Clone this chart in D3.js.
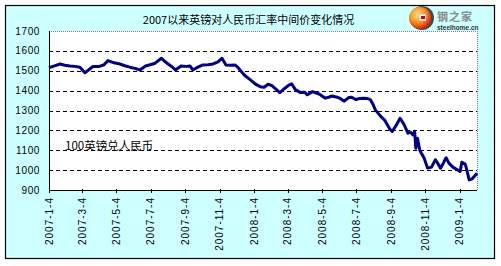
<!DOCTYPE html>
<html>
<head>
<meta charset="utf-8">
<script src="https://cdn.jsdelivr.net/npm/d3@7"></script>
<style>
  body { margin: 0; background: #fff; }
  text { font-family: "Liberation Sans", Arial, sans-serif; }
  .cjk { font-family: "Noto Sans CJK SC", sans-serif; }
</style>
</head>
<body>
<div id="chart"></div>
<script>
// 英镑对人民币中间价 (100 GBP)
var dates = ["2007-1-4","2007-1-11","2007-1-24","2007-2-1","2007-2-10","2007-2-19","2007-2-28","2007-3-9","2007-3-16","2007-3-23",
  "2007-4-4","2007-4-12","2007-4-19","2007-4-30","2007-5-10","2007-5-19","2007-5-28","2007-6-6","2007-6-15","2007-6-25",
  "2007-7-3","2007-7-12","2007-7-23","2007-7-30","2007-8-4","2007-8-11","2007-8-17","2007-8-27","2007-9-5","2007-9-12",
  "2007-9-17","2007-9-26","2007-10-5","2007-10-14","2007-10-23","2007-11-1","2007-11-8","2007-11-15","2007-11-24","2007-12-1",
  "2007-12-6","2007-12-10","2007-12-19","2007-12-28","2008-1-6","2008-1-15","2008-1-22","2008-1-29","2008-2-5","2008-2-10",
  "2008-2-19","2008-2-28","2008-3-6","2008-3-11","2008-3-18","2008-3-27","2008-4-3","2008-4-8","2008-4-17","2008-4-24",
  "2008-4-29","2008-5-10","2008-5-17","2008-5-22","2008-5-31","2008-6-7","2008-6-12","2008-6-21","2008-6-26","2008-7-3",
  "2008-7-10","2008-7-17","2008-7-24","2008-7-29","2008-8-3","2008-8-7","2008-8-17","2008-8-24","2008-9-2","2008-9-6",
  "2008-9-13","2008-9-20","2008-9-27","2008-10-4","2008-10-9","2008-10-13","2008-10-16","2008-10-18","2008-10-21","2008-10-25",
  "2008-10-28","2008-11-2","2008-11-8","2008-11-15","2008-11-22","2008-11-27","2008-12-1","2008-12-6","2008-12-11","2008-12-16",
  "2008-12-23","2009-1-5","2009-1-8","2009-1-14","2009-1-17","2009-1-21","2009-1-26","2009-1-30","2009-2-4"];
var rates = [1515,1522,1534,1528,1524,1522,1518,1490,1505,1521,
  1522,1530,1551,1540,1534,1525,1518,1512,1504,1524,
  1530,1538,1563,1545,1534,1520,1504,1524,1522,1524,
  1504,1518,1529,1530,1534,1545,1563,1529,1528,1529,
  1518,1504,1475,1455,1434,1420,1417,1432,1425,1412,
  1390,1412,1428,1434,1404,1390,1392,1379,1395,1388,
  1383,1362,1368,1373,1367,1358,1347,1365,1367,1355,
  1360,1362,1360,1355,1330,1303,1269,1250,1206,1194,
  1225,1261,1230,1186,1190,1177,1195,1110,1160,1102,
  1085,1060,1010,1015,1052,1030,1010,1035,1062,1035,
  1015,993,1040,1030,1000,951,955,968,985];

var yTicks = [900,1000,1100,1200,1300,1400,1500,1600,1700];
var xTickLabels = ["2007-1-4","2007-3-4","2007-5-4","2007-7-4","2007-9-4","2007-11-4",
  "2008-1-4","2008-3-4","2008-5-4","2008-7-4","2008-9-4","2008-11-4","2009-1-4"];

var parse = d3.timeParse("%Y-%m-%d");
var data = dates.map(function(d, i){ return {date: parse(d), v: rates[i]}; });

var W = 501, H = 266;
var pLeft = 49, pRight = 477, pTop = 31, pBottom = 190;

var svg = d3.select("#chart").append("svg")
    .attr("width", W).attr("height", H);

// dotted cyan background
var defs = svg.append("defs");
var pat = defs.append("pattern")
    .attr("id", "dots").attr("patternUnits", "userSpaceOnUse")
    .attr("width", 6).attr("height", 6);
pat.append("rect").attr("width", 6).attr("height", 6).attr("fill", "#ccffff");
pat.append("rect").attr("x", 1).attr("y", 1).attr("width", 1).attr("height", 1).attr("fill", "#eaffff");
pat.append("rect").attr("x", 4).attr("y", 4).attr("width", 1).attr("height", 1).attr("fill", "#eaffff");

svg.append("rect").attr("width", W).attr("height", H).attr("fill", "#fff");
svg.append("rect")
    .attr("x", 5.5).attr("y", 5.5).attr("width", 489).attr("height", 253)
    .attr("fill", "url(#dots)").attr("stroke", "#000").attr("stroke-width", 1.2);

var x = d3.scaleTime()
    .domain([parse("2007-1-4"), parse("2009-2-4")])
    .range([pLeft, pRight]);
var y = d3.scaleLinear().domain([900, 1700]).range([pBottom, pTop]);

// plot area
svg.append("rect")
    .attr("x", pLeft).attr("y", pTop).attr("width", pRight - pLeft).attr("height", pBottom - pTop)
    .attr("fill", "#fff");

// grid
svg.selectAll(".grid").data(yTicks.filter(function(d){ return d > 900 && d < 1700; }))
  .enter().append("line")
    .attr("class", "grid")
    .attr("x1", pLeft).attr("x2", pRight)
    .attr("y1", function(d){ return Math.round(y(d)) + 0.5; })
    .attr("y2", function(d){ return Math.round(y(d)) + 0.5; })
    .attr("stroke", "#000").attr("stroke-dasharray", "4,3");

// top / right border (grey dotted)
svg.append("path")
    .attr("d", "M" + pLeft + "," + (pTop + 0.5) + "H" + (pRight + 0.5) + "V" + pBottom)
    .attr("fill", "none").attr("stroke", "#808080").attr("stroke-dasharray", "1,1");

// label inside the plot
svg.append("text")
    .attr("class", "cjk")
    .attr("x", 65).attr("y", 149.5)
    .attr("font-size", 11.5)
    .text("100英镑兑人民币");

// line
var line = d3.line()
    .x(function(d){ return x(d.date); })
    .y(function(d){ return y(d.v); });
svg.append("path").datum(data)
    .attr("d", line)
    .attr("fill", "none")
    .attr("stroke", "#000080")
    .attr("stroke-width", 3)
    .attr("stroke-linejoin", "round");

// axes lines
svg.append("line").attr("x1", pLeft + 0.5).attr("x2", pLeft + 0.5)
    .attr("y1", pTop).attr("y2", pBottom + 0.5).attr("stroke", "#000");
svg.append("line").attr("x1", pLeft).attr("x2", pRight)
    .attr("y1", pBottom + 0.5).attr("y2", pBottom + 0.5).attr("stroke", "#000");

// y labels
svg.selectAll(".ylab").data(yTicks).enter().append("text")
    .attr("class", "ylab")
    .attr("x", 40).attr("y", function(d){ return y(d); })
    .attr("dy", "0.36em")
    .attr("text-anchor", "end")
    .attr("font-size", 10)
    .attr("letter-spacing", 0.6)
    .text(function(d){ return d; });

// x ticks + labels
svg.selectAll(".xtick").data(xTickLabels).enter().append("line")
    .attr("class", "xtick")
    .attr("x1", function(d){ return Math.round(x(parse(d))) + 0.5; })
    .attr("x2", function(d){ return Math.round(x(parse(d))) + 0.5; })
    .attr("y1", pBottom - 1).attr("y2", pBottom + 3)
    .attr("stroke", "#000");

svg.selectAll(".xlab").data(xTickLabels).enter().append("text")
    .attr("class", "xlab")
    .attr("transform", function(d){
        return "translate(" + x(parse(d)) + ",197) rotate(-90)";
    })
    .attr("dy", "0.36em")
    .attr("text-anchor", "end")
    .attr("font-size", 10)
    .attr("letter-spacing", 1)
    .text(function(d){ return d; });

// title
svg.append("text")
    .attr("class", "cjk")
    .attr("x", 248.5).attr("y", 24)
    .attr("text-anchor", "middle")
    .attr("font-size", 11)
    .text("2007以来英镑对人民币汇率中间价变化情况");

// logo
var grad = defs.append("radialGradient")
    .attr("id", "logoGrad").attr("cx", "40%").attr("cy", "35%").attr("r", "70%");
grad.append("stop").attr("offset", "0%").attr("stop-color", "#ffe680");
grad.append("stop").attr("offset", "55%").attr("stop-color", "#ff8a1a");
grad.append("stop").attr("offset", "100%").attr("stop-color", "#d01010");
var logo = svg.append("g").attr("transform", "translate(422,18)");
logo.append("circle").attr("r", 12).attr("fill", "#4a4a4a");
logo.append("circle").attr("cx", -2).attr("r", 11).attr("fill", "url(#logoGrad)");
logo.append("rect").attr("x", -3).attr("y", -4).attr("width", 7).attr("height", 7)
    .attr("fill", "#eee").attr("stroke", "#999").attr("stroke-width", 0.5);
logo.append("rect").attr("x", -1).attr("y", -2).attr("width", 4).attr("height", 3).attr("fill", "#c00");
svg.append("text").attr("class", "cjk")
    .attr("x", 437).attr("y", 21)
    .attr("font-size", 11).attr("font-weight", "bold").attr("fill", "#8a8a8a")
    .attr("letter-spacing", 1)
    .text("钢之家");
svg.append("text")
    .attr("x", 437).attr("y", 30)
    .attr("font-size", 6.5).attr("font-weight", "bold").attr("fill", "#333")
    .text("steelhome.cn");
</script>
</body>
</html>
